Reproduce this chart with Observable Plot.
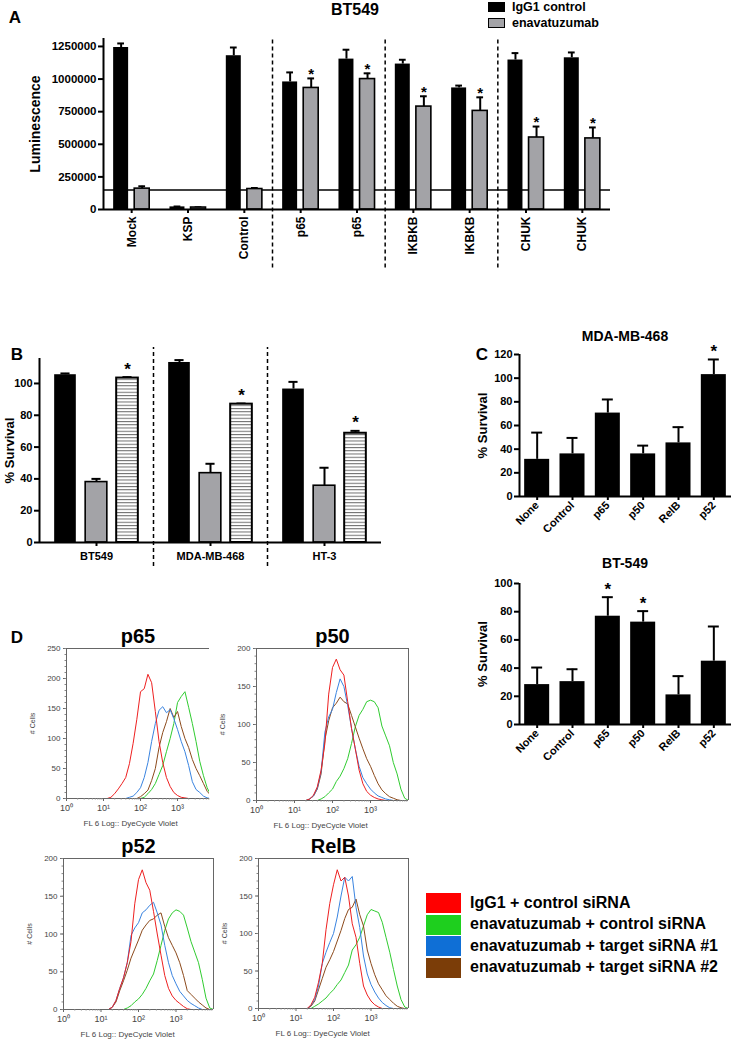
<!DOCTYPE html>
<html><head><meta charset="utf-8">
<script src="https://cdn.jsdelivr.net/npm/d3@7"></script>
<script src="https://cdn.jsdelivr.net/npm/@observablehq/plot@0.6"></script>
<style>
body{margin:0;background:#fff;}
#fig{position:relative;width:734px;height:1041px;overflow:hidden;font-family:"Liberation Sans",Arial,Helvetica,sans-serif;background:#fff;}
#fig svg{overflow:visible;}
</style></head><body><div id="fig"></div>
<script>
// ---------- Panel A data (BT549 luminescence) ----------
const aGroups = ["Mock","KSP","Control","p65","p65","IKBKB","IKBKB","CHUK","CHUK"];
const aIgG    = [1242000, 20000, 1179000, 978000, 1153000, 1115000, 932000, 1146000, 1163000];
const aIgGErr = [31000, 3000, 63000, 73000, 72000, 33000, 18000, 53000, 41000];
const aEna    = [160000, 15000, 157000, 932000, 1000000, 789000, 756000, 552000, 545000];
const aEnaErr = [18000, 2000, 8000, 73000, 44000, 79000, 104000, 84000, 84000];
const aEnaStar = [false, false, false, true, true, true, true, true, true];
const aThreshold = 150000;
const aDividers = [3, 5, 7];
const aTicks = [0, 250000, 500000, 750000, 1000000, 1250000];
const aLegend = ["IgG1 control", "enavatuzumab"];

// ---------- Panel B data (% survival) ----------
const bGroups = ["BT549", "MDA-MB-468", "HT-3"];
const bBlack = [105.5, 113.2, 96.5];
const bBlackErr = [0.8, 1.5, 4.5];
const bGray = [38, 43.6, 35.7];
const bGrayErr = [2, 5.9, 11.3];
const bHatch = [103.4, 87, 68.7];
const bHatchErr = [0.6, 0.4, 1.5];
const bHatchStar = [true, true, true];
const bDividers = [1, 2];
const bTicks = [0, 20, 40, 60, 80, 100];

// ---------- Panel C data ----------
const cGroups = ["None", "Control", "p65", "p50", "RelB", "p52"];
const cMdaVals = [31.4, 36, 70.5, 36, 45.3, 103];
const cMdaErr  = [22.6, 13.5, 11.5, 7, 13.3, 12.8];
const cMdaStar = [false, false, false, false, false, true];
const cMdaTicks = [0, 20, 40, 60, 80, 100, 120];
const cBtVals = [28.3, 30.4, 76.8, 72.6, 21, 44.9];
const cBtErr  = [12.1, 8.8, 13.5, 7.8, 13.3, 24.6];
const cBtStar = [false, false, true, true, false, false];
const cBtTicks = [0, 20, 40, 60, 80, 100];

// ---------- Panel D data (histograms, log10 fluorescence grid) ----------
const logGrid = [0, 1.0,1.1,1.2,1.3,1.4,1.5,1.6,1.7,1.8,1.9,2.0,2.1,2.2,2.3,2.4,2.5,2.6,2.7,2.8,2.9,3.0,3.1,3.2,3.3,3.4,3.5,3.6,3.7,3.8,3.9, 4.0];
const p65Red   = [0, 0,0,2,8,16,25,35,58,92,132,178,183,207,193,145,95,60,35,20,10,5,2,1,0,0,0,0,0,0,0, 0];
const p65Blue  = [0, 0,0,0,0,0,0,0,2,4,10,18,35,60,95,125,147,153,143,148,133,115,95,78,55,28,15,10,4,1,0, 0];
const p65Brown = [0, 0,0,0,0,0,0,0,0,0,0,3,8,14,30,50,85,110,128,150,135,145,120,100,85,65,50,38,25,12,5, 2];
const p65Green = [0, 0,0,0,0,0,0,0,0,0,0,0,2,8,15,25,40,55,78,100,125,160,170,178,152,125,95,62,38,18,5, 1];
const p50Red   = [0, 0,0,0,0,2,7,18,40,75,140,175,186,172,165,130,95,68,40,22,12,7,4,2,1,0,0,0,0,0,0, 0];
const p50Blue  = [0, 0,0,0,0,2,6,16,38,90,110,120,142,160,150,125,95,68,45,30,22,15,10,6,4,2,1,0,0,0,0, 0];
const p50Brown = [0, 0,0,0,0,2,6,15,35,80,105,122,128,136,130,127,112,97,82,68,55,45,33,22,14,9,5,3,1,0,0, 0];
const p50Green = [0, 0,0,0,0,0,0,0,2,5,10,15,25,32,42,55,75,97,112,120,130,132,130,122,98,85,72,50,35,15,3, 0];
const p52Red   = [0, 0,0,0,3,12,28,42,62,90,140,172,185,168,158,130,100,72,45,28,18,12,8,4,1,0,0,0,0,0,0, 0];
const p52Blue  = [0, 0,0,0,3,12,28,42,62,98,108,115,128,132,138,142,128,112,85,62,45,34,24,18,12,8,5,2,0,0,0, 0];
const p52Brown = [0, 0,0,0,3,10,25,38,52,68,80,92,105,112,118,120,125,128,110,95,85,75,62,45,25,20,15,10,6,2,0, 0];
const p52Green = [0, 0,0,0,0,0,0,0,2,5,10,14,20,28,38,47,65,85,105,120,128,132,130,125,108,90,76,62,40,15,2, 0];
const relbRed   = [0, 0,0,0,0,5,15,35,60,105,140,165,185,170,175,150,113,95,60,30,18,10,5,2,0,0,0,0,0,0,0, 0];
const relbBlue  = [0, 0,0,0,0,4,12,30,60,75,88,100,122,150,175,170,176,135,108,70,46,32,22,14,8,4,1,0,0,0,0, 0];
const relbBrown = [0, 0,0,0,0,3,10,25,40,55,65,76,90,104,120,132,135,146,125,110,78,60,45,33,25,17,12,7,3,1,0, 0];
const relbGreen = [0, 0,0,0,0,0,3,6,10,14,20,25,32,38,48,58,78,85,95,110,125,132,130,128,115,95,75,52,30,12,2, 0];
const dLegend = ["IgG1 + control siRNA", "enavatuzumab + control siRNA", "enavatuzumab + target siRNA #1", "enavatuzumab + target siRNA #2"];

// ---------- helpers ----------
const FONT = '"Liberation Sans", Arial, Helvetica, sans-serif';
const fig = document.getElementById("fig");
const baseStyle = {fontFamily: FONT, fontSize: "11px", color: "#000", background: "transparent", overflow: "visible"};
function place(node, left, top) {
  const d = document.createElement("div");
  Object.assign(d.style, {position: "absolute", left: left + "px", top: top + "px"});
  d.appendChild(node); fig.appendChild(d); return d;
}
function label(text, x, y, size, extra = {}, anchor = "center") {
  const d = document.createElement("div");
  d.textContent = text;
  Object.assign(d.style, {position: "absolute", left: x + "px", top: y + "px",
    transform: anchor === "center" ? "translate(-50%,-50%)" : "translate(0,-50%)",
    fontSize: size + "px", fontWeight: "bold", whiteSpace: "nowrap", lineHeight: "1", color: "#000"}, extra);
  fig.appendChild(d);
}
function box(x, y, w, h, fill, stroke) {
  const d = document.createElement("div");
  Object.assign(d.style, {position: "absolute", left: x + "px", top: y + "px", width: w + "px", height: h + "px",
    background: fill, boxSizing: "border-box", border: stroke ? `1.5px solid ${stroke}` : "none"});
  fig.appendChild(d);
}

// ---------- Panel A ----------
{
  const hw = 0.133, cap = 0.06;
  const blackRows = aGroups.map((g, i) => ({x: i + 0.5 - 0.187, v: aIgG[i], e: aIgGErr[i]}));
  const grayRows = aGroups.map((g, i) => ({x: i + 0.5 + 0.187, v: aEna[i], e: aEnaErr[i], s: aEnaStar[i]}));
  const all = blackRows.concat(grayRows);
  const yTop = 1311000;
  const plotA = Plot.plot({
    width: 734, height: 270, marginLeft: 103, marginRight: 124, marginTop: 38, marginBottom: 61,
    x: {domain: [0, 9], axis: null}, y: {domain: [0, yTop], axis: null}, style: baseStyle,
    marks: [
      Plot.ruleX(aDividers, {y1: -448000, y2: 1300000, strokeWidth: 1.5, strokeDasharray: "4,3"}),
      Plot.ruleY([aThreshold], {strokeWidth: 1.5}),
      Plot.ruleX(all, {x: "x", y1: "v", y2: d => d.v + d.e, strokeWidth: 2}),
      Plot.ruleY(all, {x1: d => d.x - cap, x2: d => d.x + cap, y: d => d.v + d.e, strokeWidth: 2}),
      Plot.rectY(blackRows, {x1: d => d.x - hw, x2: d => d.x + hw, y1: 0, y2: "v", fill: "#000"}),
      Plot.rectY(grayRows, {x1: d => d.x - hw, x2: d => d.x + hw, y1: 0, y2: "v", fill: "#a3a3a7", stroke: "#000", strokeWidth: 1.6}),
      Plot.text(grayRows.filter(d => d.s), {x: "x", y: d => d.v + d.e, text: () => "*", dy: -4, lineAnchor: "middle", fontSize: 15, fontWeight: "bold"}),
      Plot.ruleY([0], {strokeWidth: 2}),
      Plot.ruleX([0], {y1: 0, y2: yTop, strokeWidth: 2}),
      Plot.axisY({ticks: aTicks, tickFormat: d3.format("d"), tickSize: 5, strokeWidth: 2, tickPadding: 2, fontSize: 11.5, fontWeight: "bold", label: null}),
      Plot.axisX({ticks: aGroups.map((g, i) => i + 0.5), tickFormat: d => aGroups[Math.round(d - 0.5)], tickRotate: -90, tickSize: 4, strokeWidth: 2, tickPadding: 3, fontSize: 12, fontWeight: "bold", label: null}),
      Plot.text(["Luminescence"], {text: d => d, frameAnchor: "left", dx: -68, rotate: -90, textAnchor: "middle", fontSize: 14, fontWeight: "bold"})
    ]
  });
  place(plotA, 0, 0);
  label("A", 15, 17, 17);
  label("BT549", 355, 10, 16);
  box(488, 2, 17, 10, "#000");
  box(488, 18, 17, 10, "#a3a3a7", "#000");
  label(aLegend[0], 512, 7, 12.5, {}, "left");
  label(aLegend[1], 512, 23, 12.5, {}, "left");
}

// ---------- Panel B ----------
{
  const hw = 0.095, cap = 0.04;
  const rows = [];
  bGroups.forEach((g, i) => {
    rows.push({x: i + 0.5 - 0.272, v: bBlack[i], e: bBlackErr[i], kind: "black", s: false});
    rows.push({x: i + 0.5, v: bGray[i], e: bGrayErr[i], kind: "gray", s: false});
    rows.push({x: i + 0.5 + 0.272, v: bHatch[i], e: bHatchErr[i], kind: "hatch", s: bHatchStar[i]});
  });
  const yTop = 115.7;
  const plotB = Plot.plot({
    width: 390, height: 250, marginLeft: 39, marginRight: 9, marginTop: 28, marginBottom: 38,
    x: {domain: [0, 3], axis: null}, y: {domain: [0, yTop], axis: null}, style: baseStyle,
    marks: [
      Plot.ruleX(bDividers, {y1: -15.1, y2: 122.6, strokeWidth: 1.5, strokeDasharray: "4,3"}),
      Plot.ruleX(rows, {x: "x", y1: "v", y2: d => d.v + d.e, strokeWidth: 2}),
      Plot.ruleY(rows, {x1: d => d.x - cap, x2: d => d.x + cap, y: d => d.v + d.e, strokeWidth: 2}),
      Plot.rectY(rows.filter(d => d.kind === "black"), {x1: d => d.x - hw, x2: d => d.x + hw, y1: 0, y2: "v", fill: "#000"}),
      Plot.rectY(rows.filter(d => d.kind === "gray"), {x1: d => d.x - hw, x2: d => d.x + hw, y1: 0, y2: "v", fill: "#a3a3a7", stroke: "#000", strokeWidth: 1.6}),
      Plot.rectY(rows.filter(d => d.kind === "hatch"), {x1: d => d.x - hw, x2: d => d.x + hw, y1: 0, y2: "v", fill: "url(#hatchB)", stroke: "#000", strokeWidth: 2}),
      Plot.text(rows.filter(d => d.s), {x: "x", y: d => d.v + d.e, text: () => "*", dy: -8, lineAnchor: "middle", fontSize: 17, fontWeight: "bold"}),
      Plot.ruleY([0], {strokeWidth: 2}),
      Plot.ruleX([0], {y1: 0, y2: yTop, strokeWidth: 2}),
      Plot.axisY({ticks: bTicks, tickSize: 5, strokeWidth: 2, tickPadding: 2, fontSize: 11, fontWeight: "bold", label: null}),
      Plot.axisX({ticks: bGroups.map((g, i) => i + 0.5), tickFormat: d => bGroups[Math.round(d - 0.5)], tickSize: 4, strokeWidth: 2, tickPadding: 6, fontSize: 11, fontWeight: "bold", label: null}),
      Plot.text(["% Survival"], {text: d => d, frameAnchor: "left", dx: -30, rotate: -90, textAnchor: "middle", fontSize: 13, fontWeight: "bold"})
    ]
  });
  const defs = d3.select(plotB).insert("defs", ":first-child");
  const pat = defs.append("pattern").attr("id", "hatchB").attr("patternUnits", "userSpaceOnUse").attr("width", 6).attr("height", 3.25);
  pat.append("rect").attr("width", 6).attr("height", 3.25).attr("fill", "#fff");
  pat.append("rect").attr("width", 6).attr("height", 1).attr("fill", "#6a6a6a");
  place(plotB, 0, 330);
  label("B", 17, 354, 17);
}

// ---------- Panel C ----------
function panelC(vals, errs, stars, yTop, ticks, height, mt, mb) {
  const hw = 0.354, cap = 0.155;
  const rows = cGroups.map((g, i) => ({x: i + 0.5, v: vals[i], e: errs[i], s: stars[i]}));
  return Plot.plot({
    width: 294, height, marginLeft: 79, marginRight: 3, marginTop: mt, marginBottom: mb,
    x: {domain: [0, 6], axis: null}, y: {domain: [0, yTop], axis: null}, style: baseStyle,
    marks: [
      Plot.ruleX(rows, {x: "x", y1: "v", y2: d => d.v + d.e, strokeWidth: 2}),
      Plot.ruleY(rows, {x1: d => d.x - cap, x2: d => d.x + cap, y: d => d.v + d.e, strokeWidth: 2}),
      Plot.rectY(rows, {x1: d => d.x - hw, x2: d => d.x + hw, y1: 0, y2: "v", fill: "#000"}),
      Plot.text(rows.filter(d => d.s), {x: "x", y: d => d.v + d.e, text: () => "*", dy: -8, lineAnchor: "middle", fontSize: 17, fontWeight: "bold"}),
      Plot.ruleY([0], {strokeWidth: 2}),
      Plot.ruleX([0], {y1: 0, y2: yTop, strokeWidth: 2}),
      Plot.axisY({ticks, tickSize: 5, strokeWidth: 2, tickPadding: 2, fontSize: 11, fontWeight: "bold", label: null}),
      Plot.axisX({ticks: rows.map(d => d.x), tickFormat: d => cGroups[Math.round(d - 0.5)], tickRotate: -45, tickSize: 4, strokeWidth: 2, tickPadding: 3, fontSize: 11, fontWeight: "bold", label: null}),
      Plot.text(["% Survival"], {text: d => d, frameAnchor: "left", dx: -37, rotate: -90, textAnchor: "middle", fontSize: 13, fontWeight: "bold"})
    ]
  });
}
place(panelC(cMdaVals, cMdaErr, cMdaStar, 120, cMdaTicks, 220, 34, 44), 440, 320);
place(panelC(cBtVals, cBtErr, cBtStar, 100, cBtTicks, 215, 43, 31), 440, 540);
label("C", 482, 354, 17);
label("MDA-MB-468", 625, 336, 14);
label("BT-549", 625, 563, 14);

// ---------- Panel D ----------
const sup = {0: "\u2070", 1: "\u00B9", 2: "\u00B2", 3: "\u00B3"};
const curveColors = {red: "#ee2020", green: "#30cc30", blue: "#3a84e0", brown: "#8c4a1c"};
function histo(curves, yMax, yStep, xMax, w, h, ml, mr, mt, mb, title, rightEdge) {
  const yTicks = d3.range(0, yMax + 1, yStep);
  const yMinor = d3.range(0, yMax + 1, yStep / 5);
  const xMinor = [];
  [1, 10, 100, 1000].forEach(p => { for (let k = 2; k <= 9; k++) if (p * k <= xMax) xMinor.push(p * k); });
  const marks = [];
  marks.push(Plot.ruleY([0, yMax], {stroke: "#666", strokeWidth: 1}));
  marks.push(Plot.ruleX([1], {stroke: "#666", strokeWidth: 1}));
  if (rightEdge) marks.push(Plot.ruleX([xMax], {stroke: "#666", strokeWidth: 1}));
  for (const [vals, color] of curves) {
    marks.push(Plot.line(logGrid.map((L, i) => ({x: Math.pow(10, L), y: vals[i]})), {x: "x", y: "y", stroke: color, strokeWidth: 1, clip: true}));
  }
  marks.push(Plot.axisY({ticks: yTicks, tickSize: 3, tickPadding: 3, fontSize: 8, fill: "#444", stroke: "#666", label: null}));
  marks.push(Plot.axisY({ticks: yMinor, tickSize: 1.5, tickFormat: () => "", stroke: "#888", label: null}));
  marks.push(Plot.axisX({ticks: [1, 10, 100, 1000], tickFormat: d => "10" + sup[Math.round(Math.log10(d))], tickSize: 3, tickPadding: 3, fontSize: 9, fill: "#444", stroke: "#666", label: null}));
  marks.push(Plot.axisX({ticks: xMinor, tickSize: 1.5, tickFormat: () => "", stroke: "#888", label: null}));
  marks.push(Plot.text(["# Cells"], {text: d => d, frameAnchor: "left", dx: -34, rotate: -90, textAnchor: "middle", fontSize: 7, fill: "#444"}));
  marks.push(Plot.text(["FL 6 Log:: DyeCycle Violet"], {text: d => d, frameAnchor: "bottom-left", dx: 17, dy: 25, textAnchor: "start", lineAnchor: "middle", fontSize: 8, fill: "#444"}));
  marks.push(Plot.text([title], {text: d => d, frameAnchor: "top", dy: -12, lineAnchor: "middle", fontSize: 20, fontWeight: "bold", fill: "#000"}));
  return Plot.plot({
    width: w, height: h, marginLeft: ml, marginRight: mr, marginTop: mt, marginBottom: mb,
    x: {type: "log", domain: [1, xMax], axis: null}, y: {domain: [0, yMax], axis: null},
    style: baseStyle, marks
  });
}
const C = curveColors;
place(histo([[p65Green, C.green], [p65Brown, C.brown], [p65Blue, C.blue], [p65Red, C.red]], 250, 50, 7300, 240, 210, 66, 31, 18, 42, "p65", false), 0, 630);
place(histo([[p50Green, C.green], [p50Brown, C.brown], [p50Blue, C.blue], [p50Red, C.red]], 200, 50, 10000, 200, 210, 16, 32, 18, 40, "p50", true), 240, 630);
place(histo([[p52Green, C.green], [p52Brown, C.brown], [p52Blue, C.blue], [p52Red, C.red]], 200, 50, 10000, 240, 201, 63, 27, 18, 32, "p52", true), 0, 840);
place(histo([[relbGreen, C.green], [relbBrown, C.brown], [relbBlue, C.blue], [relbRed, C.red]], 200, 50, 10000, 200, 201, 18, 32, 18, 33, "RelB", true), 240, 840);
label("D", 17, 637, 17);

const legendFill = ["#ff0000", "#1ecf1e", "#0f6fd6", "#7b3d08"];
dLegend.forEach((t, i) => {
  box(426, 893 + i * 21.5, 35, 20, legendFill[i]);
  label(t, 470, 903 + i * 21.3, 16, {}, "left");
});
</script></body></html>
